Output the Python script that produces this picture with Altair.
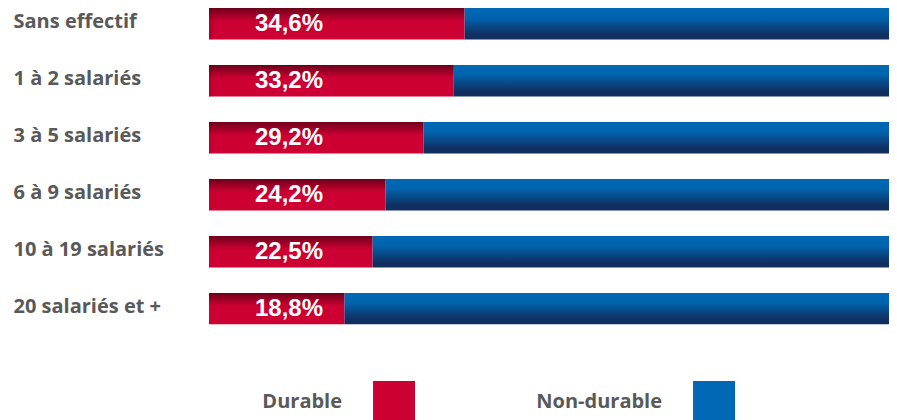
import altair as alt
import pandas as pd

categories = ["Sans effectif", "1 à 2 salariés", "3 à 5 salariés",
              "6 à 9 salariés", "10 à 19 salariés", "20 salariés et +"]
durable = [34.6, 33.2, 29.2, 24.2, 22.5, 18.8]
labels = ["34,6%", "33,2%", "29,2%", "24,2%", "22,5%", "18,8%"]
total = [100, 100, 100, 100, 100, 100]
series = ["Durable", "Non-durable"]
series_colors = ["#CC0033", "#0068B4"]

df = pd.DataFrame({"cat": categories, "durable": durable, "total": total,
                   "start": [0] * len(categories), "label": labels})
leg = pd.DataFrame({"serie": series})

xs = alt.Scale(domain=[1, 90.45], nice=False, zero=False)
ys = alt.Scale(paddingInner=0.447, paddingOuter=0)
Y = alt.Y("cat:N", sort=categories, scale=ys,
          axis=alt.Axis(title=None, domain=False, ticks=False, labelAlign="left",
                        labelPadding=196, labelOffset=-2, labelFont="Open Sans",
                        labelFontWeight="bold", labelFontSize=20, labelColor="#595959",
                        labelLimit=0))

red_grad = {"gradient": "linear", "x1": 0, "y1": 0, "x2": 0, "y2": 1,
            "stops": [{"offset": 0, "color": "#6a0018"},
                      {"offset": 0.12, "color": "#8a0022"},
                      {"offset": 0.42, "color": "#cc0033"},
                      {"offset": 1, "color": "#cc0033"}]}
red_edge = {"gradient": "linear", "x1": 0, "y1": 0, "x2": 1, "y2": 0,
            "stops": [{"offset": 0, "color": "rgba(80,0,15,0.6)"},
                      {"offset": 0.05, "color": "rgba(80,0,15,0)"},
                      {"offset": 1, "color": "rgba(80,0,15,0)"}]}
blue_grad = {"gradient": "linear", "x1": 0, "y1": 0, "x2": 0, "y2": 1,
             "stops": [{"offset": 0, "color": "#0068b4"},
                       {"offset": 0.3, "color": "#0064ae"},
                       {"offset": 0.85, "color": "#112e60"},
                       {"offset": 1, "color": "#112e60"}]}

base = alt.Chart(df)

blue = base.mark_bar(color=blue_grad, clip=True).encode(
    x=alt.X("durable:Q", scale=xs, axis=None), x2="total:Q", y=Y)
red = base.mark_bar(color=red_grad, clip=True).encode(
    x=alt.X("start:Q", scale=xs, axis=None), x2="durable:Q", y=Y)
red2 = base.mark_bar(color=red_edge, clip=True).encode(
    x=alt.X("start:Q", scale=xs, axis=None), x2="durable:Q", y=Y)
txt = base.mark_text(align="left", baseline="middle", dx=46, font="Liberation Sans",
                     fontWeight="bold", fontSize=24, color="white").encode(
    x=alt.value(0), y=Y, text="label:N")

main = alt.layer(blue, red, red2, txt)

lx = alt.X("serie:N", scale=alt.Scale(type="point", padding=0.5625, align=0.514, domain=series),
           axis=None)
lsq = alt.Chart(leg).mark_square(size=1764, opacity=1, filled=True).encode(
    x=lx, y=alt.value(394),
    color=alt.Color("serie:N", scale=alt.Scale(domain=series, range=series_colors), legend=None))
ltx = alt.Chart(leg).mark_text(align="right", baseline="middle", dx=-52, font="Open Sans",
                               fontWeight="bold", fontSize=20, color="#595959").encode(
    x=lx, y=alt.value(394), text="serie:N")
legend = alt.layer(lsq, ltx)

chart = alt.layer(main, legend).resolve_scale(x="independent", color="independent").properties(
    width=680, height=316.5,
    padding={"left": 5, "top": 0, "right": 0, "bottom": 0}
).configure_view(stroke=None)

chart.save("out.html", embed_options={"renderer": "svg", "actions": False})
